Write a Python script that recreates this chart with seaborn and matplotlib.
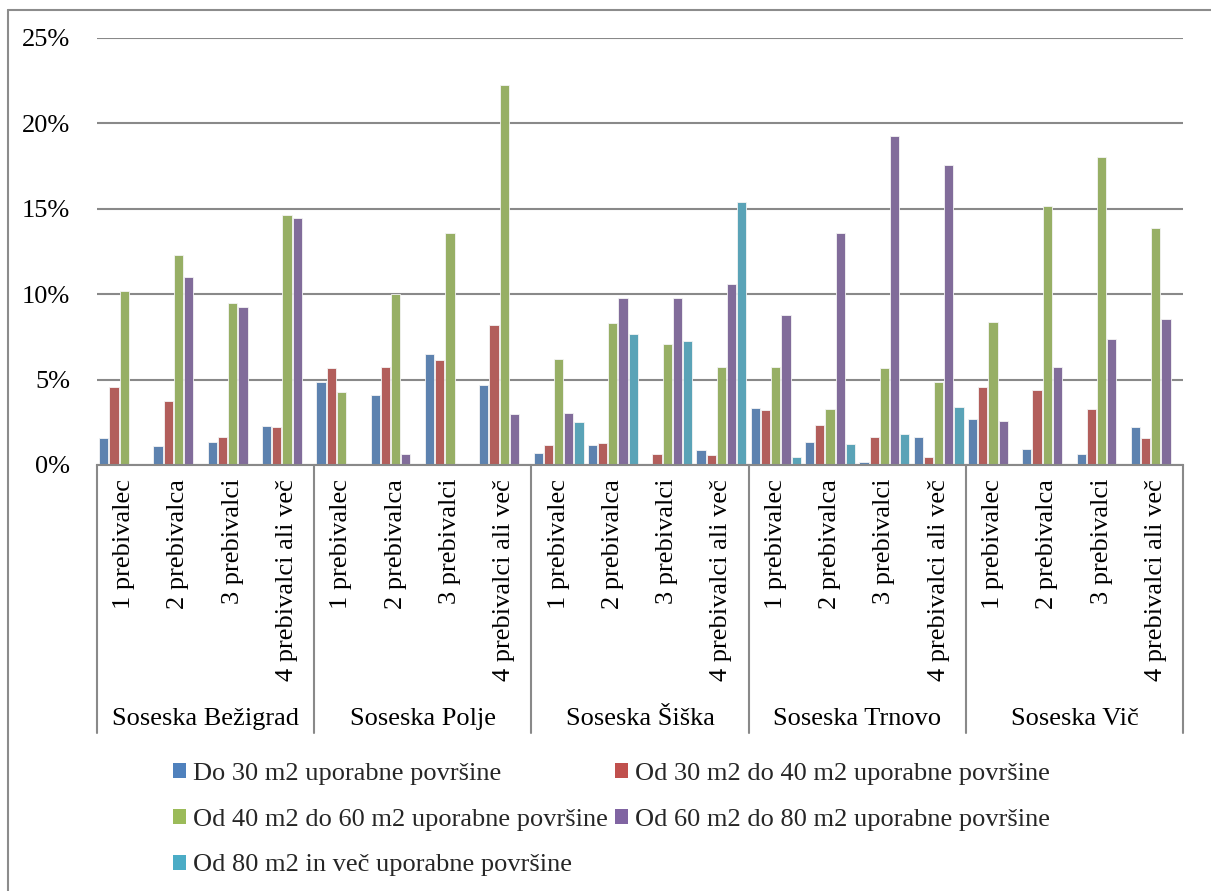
import matplotlib
matplotlib.use("Agg")
import matplotlib.pyplot as plt
from matplotlib.lines import Line2D
from matplotlib.ticker import FuncFormatter
import numpy as np
import pandas as pd
import seaborn as sns

# Neighbourhoods and household sizes (two-level category axis)
neighbourhoods = ["Soseska Bežigrad", "Soseska Polje", "Soseska Šiška",
                  "Soseska Trnovo", "Soseska Vič"]
household_sizes = ["1 prebivalec", "2 prebivalca", "3 prebivalci",
                   "4 prebivalci ali več"]

series_names = [
    "Do 30 m2 uporabne površine",
    "Od 30 m2 do 40 m2 uporabne površine",
    "Od 40 m2 do 60 m2 uporabne površine",
    "Od 60 m2 do 80 m2 uporabne površine",
    "Od 80 m2 in več uporabne površine",
]

# Share of dwellings (%), ordered neighbourhood by neighbourhood, 4 sizes each
do_30 = [1.58, 1.09, 1.37, 2.30,
         4.88, 4.12, 6.52, 4.67,
         0.68, 1.17, 0.00, 0.88,
         3.34, 1.33, 0.18, 1.64,
         2.71, 0.96, 0.63, 2.25]
od_30_40 = [4.57, 3.73, 1.66, 2.21,
            5.70, 5.76, 6.15, 8.20,
            1.17, 1.31, 0.64, 0.57,
            3.24, 2.32, 1.64, 0.47,
            4.57, 4.38, 3.28, 1.58]
od_40_60 = [10.16, 12.30, 9.49, 14.63,
            4.28, 10.00, 13.61, 22.27,
            6.23, 8.34, 7.07, 5.72,
            5.72, 3.28, 5.66, 4.88,
            8.40, 15.16, 18.03, 13.87]
od_60_80 = [0.00, 11.00, 9.24, 14.45,
            0.00, 0.64, 0.00, 2.99,
            3.03, 9.79, 9.79, 10.60,
            8.79, 13.57, 19.26, 17.54,
            2.58, 5.72, 7.36, 8.54]
od_80 = [0.00, 0.00, 0.00, 0.00,
         0.00, 0.00, 0.00, 0.00,
         2.50, 7.68, 7.25, 15.39,
         0.47, 1.21, 1.82, 3.40,
         0.00, 0.00, 0.00, 0.00]

colors = ["#4F81BD", "#C0504D", "#9BBB59", "#8064A2", "#4BACC6"]

# Long-form table for seaborn
group_keys = [f"{n}|{h}" for n in neighbourhoods for h in household_sizes]
rows = []
for name, vals in zip(series_names, [do_30, od_30_40, od_40_60, od_60_80, od_80]):
    for key, v in zip(group_keys, vals):
        rows.append({"group": key, "serija": name, "delez": v})
df = pd.DataFrame(rows)

sns.set_theme(style="white")
plt.rcParams["font.family"] = ["Liberation Serif", "DejaVu Serif"]

FS = 19
W, H = 1211, 891
fig = plt.figure(figsize=(W / 100, H / 100), dpi=100)


def fx(x):
    return x / W


def fy(y):
    return 1 - y / H


ax_l, ax_r, ax_t, ax_b = 97, 1183, 38, 465
ax = fig.add_axes([fx(ax_l), fy(ax_b), fx(ax_r) - fx(ax_l), (ax_b - ax_t) / H])

sns.barplot(data=df, x="group", y="delez", hue="serija", order=group_keys,
            hue_order=series_names, palette=colors, width=0.94, gap=0.1,
            edgecolor="#f4f4f4", linewidth=0.6, errorbar=None, legend=False,
            ax=ax, zorder=2)

grid_color = "#898989"
ax.set_ylim(0, 25)
ax.set_xlim(-0.5, len(group_keys) - 0.5)
ax.set_yticks(np.arange(0, 26, 5))
ax.yaxis.set_major_formatter(FuncFormatter(lambda v, p: f"{v:.0f}%"))
ax.yaxis.grid(True, color=grid_color, linewidth=1.5)
ax.set_axisbelow(True)
for s in ["left", "top", "right"]:
    ax.spines[s].set_visible(False)
ax.spines["bottom"].set_color(grid_color)
ax.spines["bottom"].set_linewidth(1.5)
ax.tick_params(axis="y", length=0, pad=19.5, labelsize=FS, labelcolor="black")
ax.tick_params(axis="x", length=0, pad=10, labelsize=FS, labelcolor="black")
ax.set_xticks(range(len(group_keys)))
ax.set_xticklabels([g.split("|")[1] for g in group_keys], rotation=90,
                   va="top", ha="center")
ax.set_xlabel("")
ax.set_ylabel("")

# Outer category level: divider lines and neighbourhood names
tr = ax.get_xaxis_transform()
depth = -(733 - ax_b) / (ax_b - ax_t)
n_sizes = len(household_sizes)
for k in range(len(neighbourhoods) + 1):
    xpos = k * n_sizes - 0.5
    ax.add_line(Line2D([xpos, xpos], [0, depth], transform=tr, color=grid_color,
                       linewidth=1.5, clip_on=False))
name_y = -(719 - ax_b) / (ax_b - ax_t)
for k, n in enumerate(neighbourhoods):
    ax.text(k * n_sizes + (n_sizes - 1) / 2, name_y, n, transform=tr,
            ha="center", va="center", fontsize=FS, color="black")

# Legend: row-major order across two columns
handles = [plt.Rectangle((0, 0), 1, 1, facecolor=c, edgecolor="none") for c in colors]
order = [0, 2, 4, 1, 3]
fig.legend([handles[i] for i in order], [series_names[i] for i in order],
           ncol=2, loc="upper left", bbox_to_anchor=(fx(173), fy(763)),
           frameon=False, fontsize=FS, handlelength=0.5, handleheight=0.5,
           handletextpad=0.27, columnspacing=0.25, labelspacing=0.9,
           borderpad=0, borderaxespad=0)

# Chart-area border (runs off the right and bottom edges)
fig.add_artist(Line2D([fx(8), fx(8)], [fy(10), fy(H + 5)], color="#8c8c8c",
                      linewidth=1.5, transform=fig.transFigure))
fig.add_artist(Line2D([fx(8), fx(W + 5)], [fy(10), fy(10)], color="#8c8c8c",
                      linewidth=1.5, transform=fig.transFigure))

fig.savefig("out.png", dpi=100, facecolor="white")
